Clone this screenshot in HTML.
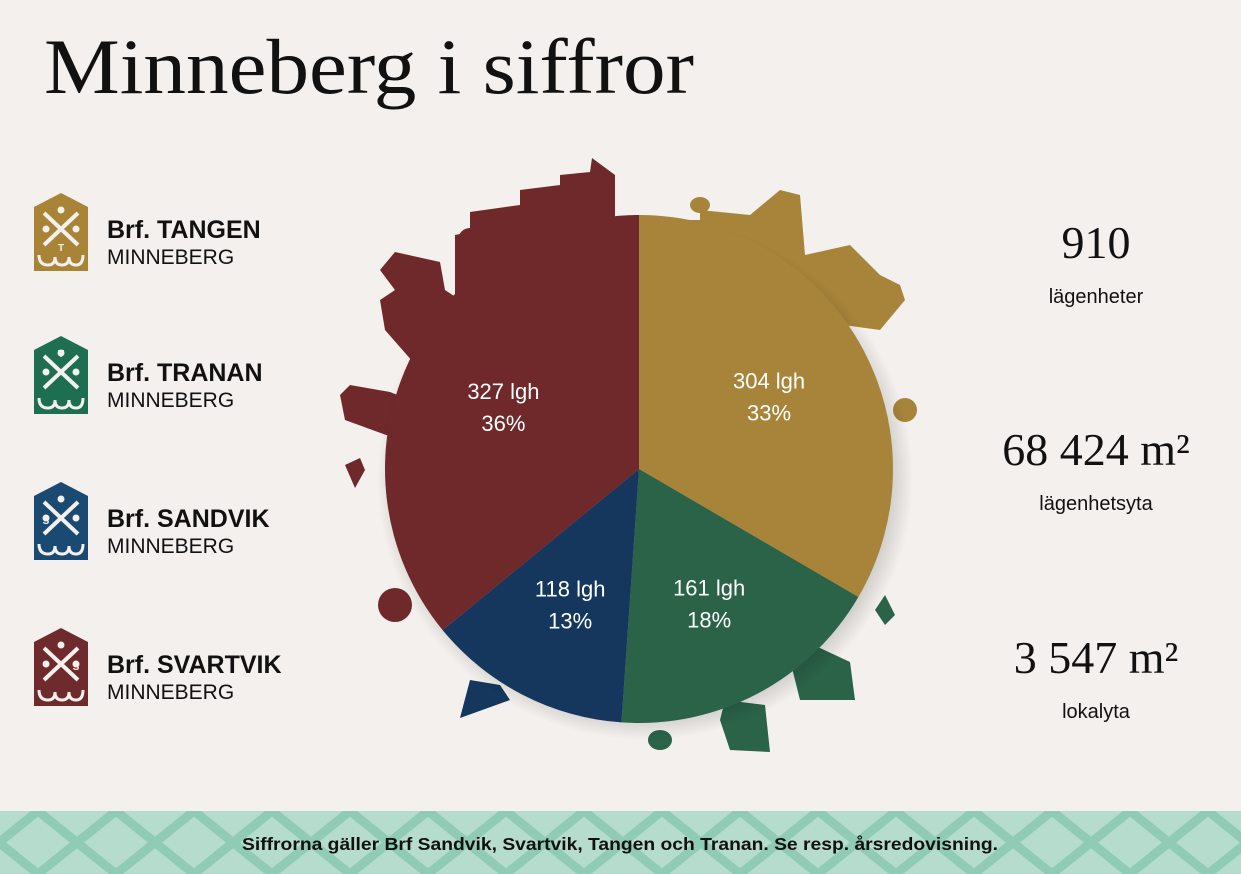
<!DOCTYPE html>
<html><head><meta charset="utf-8"><style>
body{margin:0;background:#f3f0ed;}
svg{display:block}
.sans{font-family:"Liberation Sans",sans-serif}
.serif{font-family:"Liberation Serif",serif}
</style></head><body>
<svg id="root" width="1241" height="874" viewBox="0 0 1241 874">
<defs>
 <pattern id="xpat" x="-40" y="811" width="78" height="63" patternUnits="userSpaceOnUse">
  <path d="M0,0 L78,63 M78,0 L0,63" stroke="#8fcbb5" stroke-width="9"/>
 </pattern>
 <radialGradient id="shadow" cx="0.5" cy="0.5" r="0.5">
  <stop offset="0.85" stop-color="#000" stop-opacity="0.25"/>
  <stop offset="1" stop-color="#000" stop-opacity="0"/>
 </radialGradient>
</defs>
<rect width="1241" height="874" fill="#f3f0ed"/>
<text class="serif" x="44" y="93" font-size="78" textLength="650" lengthAdjust="spacingAndGlyphs" fill="#111">Minneberg i siffror</text>

<g id="logos"></g>
<g id="silhouettes"></g>
<ellipse cx="645" cy="478" rx="268" ry="262" fill="url(#shadow)"/>
<g id="pie"></g>
<g id="labels"></g>

<g>
<text class="serif" x="1096" y="258" font-size="46" text-anchor="middle" fill="#111">910</text>
<text class="sans" x="1096" y="303" font-size="20" text-anchor="middle" fill="#111">lägenheter</text>
</g>
<g>
<text class="serif" x="1096" y="465" font-size="46" text-anchor="middle" fill="#111">68 424 m²</text>
<text class="sans" x="1096" y="510" font-size="20" text-anchor="middle" fill="#111">lägenhetsyta</text>
</g>
<g>
<text class="serif" x="1096" y="673" font-size="46" text-anchor="middle" fill="#111">3 547 m²</text>
<text class="sans" x="1096" y="718" font-size="20" text-anchor="middle" fill="#111">lokalyta</text>
</g>

<g>
<rect x="0" y="811" width="1241" height="63" fill="#b5dccd"/>
<rect x="0" y="811" width="1241" height="63" fill="url(#xpat)"/>
<text class="sans" x="620" y="850" font-size="17.5" font-weight="bold" textLength="756" lengthAdjust="spacingAndGlyphs" text-anchor="middle" fill="#111">Siffrorna gäller Brf Sandvik, Svartvik, Tangen och Tranan. Se resp. årsredovisning.</text>
</g>
</svg>
<script>
const categories=["Tangen","Tranan","Sandvik","Svartvik"];
const apartments=[304,161,118,327];
const percents=[33,18,13,36];
const colors=["#a8843a","#2b6349","#15375e","#6f292b"];
const logoColors=["#a98436","#1e6e52","#1a4a72","#6e2a2d"];
const logoNames=["Brf. TANGEN","Brf. TRANAN","Brf. SANDVIK","Brf. SVARTVIK"];
const logoLetters=["T","T","S","S"];

const NS="http://www.w3.org/2000/svg";
function mk(t,a,p){const e=document.createElementNS(NS,t);for(const k in a)e.setAttribute(k,a[k]);p.appendChild(e);return e;}
const cx=639,cy=469,R=254;
function pt(a,r){return [cx+r*Math.sin(a),cy-r*Math.cos(a)];}
const total=apartments.reduce((s,v)=>s+v,0);
const pie=document.getElementById('pie'),labels=document.getElementById('labels');
let acc=0;
apartments.forEach((v,i)=>{
 const a0=acc/total*2*Math.PI;acc+=v;const a1=acc/total*2*Math.PI;
 const p0=pt(a0,R),p1=pt(a1,R);const large=(a1-a0)>Math.PI?1:0;
 const path=mk('path',{d:`M${cx},${cy} L${p0[0]},${p0[1]} A${R},${R} 0 ${large} 1 ${p1[0]},${p1[1]} Z`,fill:colors[i]},pie);
 
 
 const am=(a0+a1)/2;const lp=pt(am,150);
 const g=mk('g',{},labels);
 
 
 const t1=mk('text',{x:lp[0],y:lp[1]-6,'font-size':22,'text-anchor':'middle',fill:'#fff',class:'sans'},g);t1.textContent=v+' lgh';
 const t2=mk('text',{x:lp[0],y:lp[1]+26,'font-size':22,'text-anchor':'middle',fill:'#fff',class:'sans'},g);t2.textContent=percents[i]+'%';
});

const sil=document.getElementById('silhouettes');
const shapes=[
 ["#6f292b","M520,300 L520,190 L560,185 L560,175 L590,172 L592,158 L615,175 L615,300 Z"],
 ["#6f292b","M455,300 L455,235 L470,232 L470,212 L520,205 L520,300 Z"],
 ["#6f292b","M420,370 L385,330 L380,300 L395,290 L380,270 L395,252 L440,262 L445,290 L460,300 Z"],
 ["#6f292b","M400,440 L345,420 L340,395 L350,385 L390,392 L410,400 Z"],
 ["#6f292b","M470,240 m-12,0 a12,12 0 1,0 24,0 a12,12 0 1,0 -24,0"],
 ["#6f292b","M395,605 m-17,0 a17,17 0 1,0 34,0 a17,17 0 1,0 -34,0"],
 ["#a8843a","M660,300 L640,300 L640,220 L700,220 L700,210 L750,215 L780,190 L800,195 L805,255 L850,245 L880,275 L900,285 L905,300 L880,330 Z"],
 ["#a8843a","M905,410 m-12,0 a12,12 0 1,0 24,0 a12,12 0 1,0 -24,0"],
 ["#a8843a","M700,205 m-10,0 a10,8 0 1,0 20,0 a10,8 0 1,0 -20,0"],
 ["#2b6349","M790,660 L800,640 L820,648 L850,662 L855,700 L800,700 Z"],
 ["#2b6349","M720,720 L725,700 L765,705 L770,752 L730,750 Z"],
 ["#2b6349","M660,740 m-12,0 a12,10 0 1,0 24,0 a12,10 0 1,0 -24,0"],
 ["#2b6349","M875,610 L885,595 L895,615 L885,625 Z"],
 ["#15375e","M460,718 L470,680 L500,685 L510,700 Z"],
 ["#6f292b","M345,465 L360,458 L365,470 L355,488 Z"]
];
shapes.forEach((s,i)=>{const p=mk('path',{d:s[1],fill:s[0]},sil);
 
 });

const logos=document.getElementById('logos');
const ys=[193,336,482,628];
ys.forEach((y,i)=>{
 const g=mk('g',{transform:`translate(34,${y})`},logos);
 
 
 mk('path',{d:"M0,14 L27,0 L54,14 L54,78 L0,78 Z",fill:logoColors[i]},g);
 mk('path',{d:"M10,20 L44,52 M44,20 L10,52",stroke:"#f3f0ed","stroke-width":4},g);
 mk('circle',{cx:27,cy:17,r:3.5,fill:"#f3f0ed"},g);
 mk('circle',{cx:12,cy:36,r:3.5,fill:"#f3f0ed"},g);
 mk('circle',{cx:42,cy:36,r:3.5,fill:"#f3f0ed"},g);
 const lx=i==2?12:(i==3?42:27), ly=i==1?21:(i==0?58:42);
 const lt=mk('text',{x:lx,y:ly,'font-size':10,'font-weight':'bold','text-anchor':'middle',fill:'#f3f0ed',class:'sans'},g);lt.textContent=logoLetters[i];
 mk('path',{d:"M5,62 Q5,72 14,72 Q21,72 21,64 Q21,72 28,72 Q35,72 35,64 Q35,72 42,72 Q49,72 49,62",stroke:"#f3f0ed","stroke-width":3,fill:"none"},g);
 const t1=mk('text',{x:73,y:45,'font-size':25,'font-weight':'bold',fill:'#111',class:'sans'},g);t1.textContent=logoNames[i];
 const t2=mk('text',{x:73,y:71,'font-size':21,fill:'#111',class:'sans'},g);t2.textContent="MINNEBERG";
});
</script>
</body></html>
